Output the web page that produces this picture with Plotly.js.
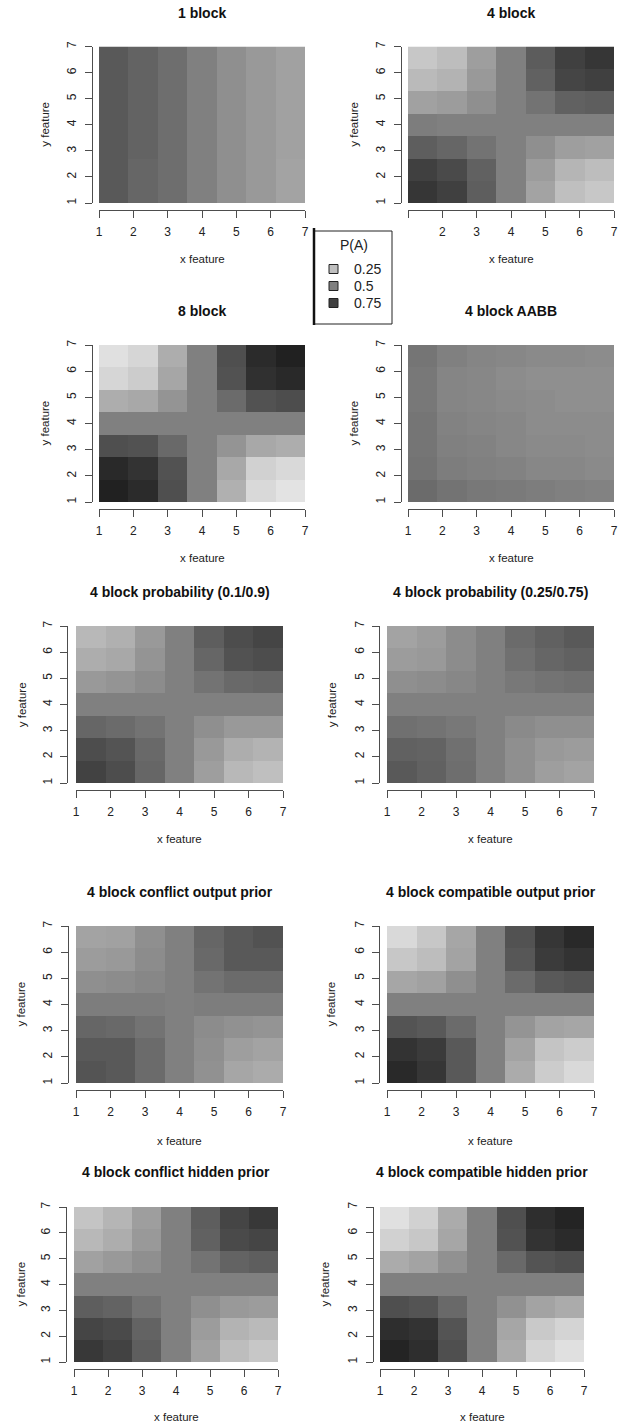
<!DOCTYPE html>
<html>
<head>
<meta charset="utf-8">
<script src="https://cdn.plot.ly/plotly-3.0.1.min.js"></script>
<style>
  html, body { margin: 0; padding: 0; background: #ffffff; }
  #chart { width: 621px; height: 1424px; }
</style>
</head>
<body>
<div id="chart"></div>
<script>
// ---------------- DATA (P(A) per cell, rows listed from y=7 (top) down to y=1) ----------------
const xCategories = [1, 2, 3, 4, 5, 6, 7];
const yCategories = [1, 2, 3, 4, 5, 6, 7];
const tickLabels = ['1', '2', '3', '4', '5', '6', '7'];
const tickLabelsNoOne = ['', '2', '3', '4', '5', '6', '7'];

const panelTitles = [
  '1 block', '4 block',
  '8 block', '4 block AABB',
  '4 block probability (0.1/0.9)', '4 block probability (0.25/0.75)',
  '4 block conflict output prior', '4 block compatible output prior',
  '4 block conflict hidden prior', '4 block compatible hidden prior'
];

const legendTitle = 'P(A)';
const legendValues = [0.25, 0.5, 0.75];
const legendLabels = ['0.25', '0.5', '0.75'];

const pOneBlock = [
  [0.65, 0.61, 0.57, 0.50, 0.44, 0.40, 0.37],
  [0.65, 0.61, 0.57, 0.50, 0.44, 0.40, 0.37],
  [0.65, 0.61, 0.57, 0.50, 0.44, 0.40, 0.37],
  [0.65, 0.61, 0.57, 0.50, 0.44, 0.40, 0.37],
  [0.65, 0.61, 0.57, 0.50, 0.44, 0.40, 0.37],
  [0.65, 0.60, 0.57, 0.50, 0.44, 0.40, 0.36],
  [0.65, 0.60, 0.57, 0.50, 0.44, 0.40, 0.36]
];
const pFourBlock = [
  [0.22, 0.26, 0.38, 0.50, 0.64, 0.75, 0.79],
  [0.27, 0.30, 0.40, 0.50, 0.62, 0.73, 0.75],
  [0.37, 0.39, 0.44, 0.50, 0.55, 0.62, 0.63],
  [0.51, 0.50, 0.50, 0.50, 0.50, 0.50, 0.50],
  [0.63, 0.60, 0.55, 0.50, 0.44, 0.38, 0.37],
  [0.75, 0.71, 0.62, 0.50, 0.39, 0.29, 0.26],
  [0.79, 0.75, 0.63, 0.50, 0.36, 0.25, 0.22]
];
const pEightBlock = [
  [0.12, 0.16, 0.32, 0.50, 0.69, 0.83, 0.87],
  [0.16, 0.20, 0.35, 0.50, 0.68, 0.81, 0.84],
  [0.32, 0.34, 0.42, 0.50, 0.58, 0.68, 0.70],
  [0.50, 0.50, 0.50, 0.50, 0.50, 0.50, 0.50],
  [0.69, 0.68, 0.59, 0.50, 0.42, 0.34, 0.32],
  [0.84, 0.80, 0.68, 0.50, 0.34, 0.18, 0.15],
  [0.87, 0.83, 0.69, 0.50, 0.31, 0.15, 0.11]
];
const pFourBlockAABB = [
  [0.54, 0.50, 0.48, 0.47, 0.46, 0.46, 0.45],
  [0.53, 0.48, 0.47, 0.45, 0.44, 0.44, 0.44],
  [0.53, 0.48, 0.47, 0.46, 0.45, 0.44, 0.44],
  [0.54, 0.49, 0.48, 0.47, 0.45, 0.45, 0.45],
  [0.54, 0.50, 0.49, 0.47, 0.46, 0.46, 0.45],
  [0.55, 0.51, 0.50, 0.49, 0.47, 0.47, 0.46],
  [0.58, 0.55, 0.53, 0.52, 0.51, 0.50, 0.49]
];
const pProb1090 = [
  [0.28, 0.31, 0.40, 0.50, 0.63, 0.70, 0.73],
  [0.32, 0.34, 0.42, 0.50, 0.60, 0.68, 0.70],
  [0.40, 0.42, 0.45, 0.50, 0.55, 0.59, 0.60],
  [0.50, 0.50, 0.50, 0.50, 0.50, 0.50, 0.50],
  [0.60, 0.58, 0.55, 0.50, 0.44, 0.40, 0.40],
  [0.70, 0.67, 0.59, 0.50, 0.40, 0.32, 0.30],
  [0.74, 0.70, 0.60, 0.50, 0.38, 0.28, 0.25]
];
const pProb2575 = [
  [0.36, 0.39, 0.45, 0.50, 0.58, 0.62, 0.65],
  [0.39, 0.40, 0.45, 0.50, 0.56, 0.60, 0.62],
  [0.44, 0.45, 0.47, 0.50, 0.53, 0.55, 0.56],
  [0.50, 0.50, 0.50, 0.50, 0.50, 0.50, 0.50],
  [0.56, 0.55, 0.53, 0.50, 0.46, 0.44, 0.44],
  [0.62, 0.61, 0.56, 0.50, 0.44, 0.40, 0.39],
  [0.65, 0.62, 0.57, 0.50, 0.44, 0.38, 0.36]
];
const pConflictOutput = [
  [0.36, 0.37, 0.44, 0.50, 0.60, 0.65, 0.68],
  [0.39, 0.40, 0.45, 0.50, 0.59, 0.65, 0.65],
  [0.44, 0.45, 0.47, 0.50, 0.55, 0.58, 0.58],
  [0.51, 0.51, 0.51, 0.50, 0.51, 0.51, 0.51],
  [0.60, 0.59, 0.55, 0.50, 0.45, 0.43, 0.42],
  [0.65, 0.65, 0.58, 0.50, 0.44, 0.38, 0.36],
  [0.67, 0.65, 0.58, 0.50, 0.43, 0.35, 0.33]
];
const pCompatibleOutput = [
  [0.15, 0.22, 0.35, 0.50, 0.68, 0.79, 0.84],
  [0.22, 0.26, 0.36, 0.50, 0.66, 0.77, 0.80],
  [0.35, 0.37, 0.44, 0.50, 0.58, 0.65, 0.67],
  [0.50, 0.50, 0.50, 0.50, 0.50, 0.50, 0.50],
  [0.67, 0.65, 0.58, 0.50, 0.42, 0.36, 0.35],
  [0.80, 0.77, 0.65, 0.50, 0.36, 0.23, 0.20],
  [0.84, 0.79, 0.65, 0.50, 0.33, 0.20, 0.15]
];
const pConflictHidden = [
  [0.23, 0.29, 0.38, 0.50, 0.63, 0.73, 0.78],
  [0.28, 0.32, 0.40, 0.50, 0.62, 0.71, 0.73],
  [0.37, 0.40, 0.44, 0.50, 0.55, 0.61, 0.63],
  [0.50, 0.50, 0.50, 0.50, 0.50, 0.50, 0.50],
  [0.63, 0.61, 0.55, 0.50, 0.44, 0.40, 0.39],
  [0.73, 0.71, 0.61, 0.50, 0.39, 0.30, 0.27],
  [0.78, 0.74, 0.63, 0.50, 0.37, 0.26, 0.22]
];
const pCompatibleHidden = [
  [0.12, 0.18, 0.33, 0.50, 0.69, 0.82, 0.86],
  [0.18, 0.22, 0.35, 0.50, 0.68, 0.80, 0.83],
  [0.33, 0.36, 0.43, 0.50, 0.59, 0.67, 0.69],
  [0.50, 0.50, 0.50, 0.50, 0.50, 0.50, 0.50],
  [0.69, 0.67, 0.59, 0.50, 0.43, 0.36, 0.33],
  [0.82, 0.80, 0.67, 0.50, 0.35, 0.21, 0.17],
  [0.86, 0.82, 0.69, 0.50, 0.33, 0.17, 0.12]
];

const panelData = [
  pOneBlock, pFourBlock, pEightBlock, pFourBlockAABB,
  pProb1090, pProb2575, pConflictOutput, pCompatibleOutput,
  pConflictHidden, pCompatibleHidden
];
const panelTickText = [
  tickLabels, tickLabelsNoOne, tickLabels, tickLabels, tickLabels,
  tickLabels, tickLabels, tickLabels, tickLabels, tickLabels
];

// ---------------- LAYOUT GEOMETRY (pixels) ----------------
const W = 621, H = 1424;
// [left, right, top, bottom, yAxisX, xAxisY, titleY, xLabelY, yLabelX]
const geom = [
  [99, 305, 46.5, 203, 91.5, 209.5, 13, 259, 45],
  [408, 614, 46.5, 203, 400.7, 209.5, 13, 259, 354],
  [99, 305, 345, 502, 91.5, 508.5, 311, 558, 45],
  [408, 614, 345, 502, 400.7, 508.5, 311, 558, 354],
  [76, 283, 626, 783, 67.3, 789.5, 592, 839, 21.7],
  [387, 594, 626, 783, 379.3, 789.5, 592, 839, 331.7],
  [76, 283, 926, 1083, 68, 1090, 892, 1141, 20],
  [387, 594, 926, 1083, 379.3, 1090, 892, 1141, 330],
  [74, 278, 1207, 1362, 66, 1368.5, 1172, 1417, 20],
  [380, 584, 1207, 1362, 372.7, 1368.5, 1172, 1417, 324]
];
const fx = x => x / W;
const fy = y => 1 - y / H;

const FONT = 'Liberation Sans, Arial, Helvetica, sans-serif';
const AXIS_COLOR = '#4d4d4d';
const TEXT_COLOR = '#222222';

const n = xCategories.length;
const lo = xCategories[0], hi = xCategories[n - 1];
const edges = xCategories.concat([hi]).map((_, k) => lo + k * (hi - lo) / n);

const data = [];
const layout = {
  width: W, height: H,
  margin: {l: 0, r: 0, t: 0, b: 0, pad: 0},
  paper_bgcolor: '#ffffff',
  plot_bgcolor: '#ffffff',
  showlegend: false,
  font: {family: FONT, color: TEXT_COLOR},
  annotations: [],
  shapes: []
};

panelData.forEach((rowsTopDown, i) => {
  const g = geom[i];
  const k = i + 1;
  const xa = 'x' + (k === 1 ? '' : k);
  const ya = 'y' + (k === 1 ? '' : k);
  data.push({
    type: 'heatmap',
    x: edges,
    y: edges,
    z: rowsTopDown.slice().reverse(),
    xaxis: xa, yaxis: ya,
    zmin: 0, zmax: 1,
    colorscale: [[0, 'rgb(255,255,255)'], [1, 'rgb(0,0,0)']],
    showscale: false,
    hoverinfo: 'x+y+z'
  });
  const common = {
    range: [lo, hi],
    anchor: 'free',
    showgrid: false, zeroline: false,
    showline: true, linecolor: AXIS_COLOR, linewidth: 1,
    ticks: 'outside', ticklen: 7, tickwidth: 1, tickcolor: AXIS_COLOR,
    tickvals: xCategories,
    tickfont: {family: FONT, size: 12, color: TEXT_COLOR},
    fixedrange: true
  };
  layout['xaxis' + (k === 1 ? '' : k)] = Object.assign({}, common, {
    domain: [fx(g[0]), fx(g[1])],
    position: fy(g[5]),
    ticktext: panelTickText[i],
    tickangle: 0,
    ticklabelstandoff: 4
  });
  layout['yaxis' + (k === 1 ? '' : k)] = Object.assign({}, common, {
    domain: [fy(g[3]), fy(g[2])],
    position: fx(g[4]),
    tickvals: yCategories,
    ticktext: tickLabels,
    tickangle: -90,
    ticklabelstandoff: 4
  });
  const cx = (g[0] + g[1]) / 2;
  layout.annotations.push({
    xref: 'paper', yref: 'paper', x: fx(cx), y: fy(g[6]),
    xanchor: 'center', yanchor: 'middle', showarrow: false,
    text: '<b>' + panelTitles[i] + '</b>',
    font: {family: FONT, size: 14, color: '#111111'}
  });
  layout.annotations.push({
    xref: 'paper', yref: 'paper', x: fx(cx), y: fy(g[7]),
    xanchor: 'center', yanchor: 'middle', showarrow: false,
    text: 'x feature',
    font: {family: FONT, size: 11.5, color: TEXT_COLOR}
  });
  layout.annotations.push({
    xref: 'paper', yref: 'paper', x: fx(g[8]), y: fy((g[2] + g[3]) / 2),
    xanchor: 'center', yanchor: 'middle', showarrow: false,
    textangle: -90,
    text: 'y feature',
    font: {family: FONT, size: 11.5, color: TEXT_COLOR}
  });
});

// ---------------- LEGEND (drawn box) ----------------
const lg = {left: 314, right: 392, top: 231, bottom: 324};
layout.shapes.push({
  type: 'rect', xref: 'paper', yref: 'paper',
  x0: fx(lg.left), x1: fx(lg.right), y0: fy(lg.bottom), y1: fy(lg.top),
  line: {color: '#222222', width: 1}, fillcolor: '#ffffff', layer: 'above'
});
layout.shapes.push({
  type: 'line', xref: 'paper', yref: 'paper',
  x0: fx(lg.left), x1: fx(lg.left), y0: fy(lg.bottom + 1), y1: fy(lg.top - 3),
  line: {color: '#111111', width: 2.5}, layer: 'above'
});
layout.annotations.push({
  xref: 'paper', yref: 'paper', x: fx(354), y: fy(245),
  xanchor: 'center', yanchor: 'middle', showarrow: false,
  text: legendTitle, font: {family: FONT, size: 14, color: TEXT_COLOR}
});
const legRowY = [269, 286, 303];
legendValues.forEach((v, j) => {
  const g = Math.round(255 * (1 - v));
  const cy = legRowY[j];
  layout.shapes.push({
    type: 'rect', xref: 'paper', yref: 'paper',
    x0: fx(329), x1: fx(338), y0: fy(cy + 4.5), y1: fy(cy - 4.5),
    line: {color: '#222222', width: 1},
    fillcolor: 'rgb(' + g + ',' + g + ',' + g + ')', layer: 'above'
  });
  layout.annotations.push({
    xref: 'paper', yref: 'paper', x: fx(352), y: fy(cy),
    xanchor: 'left', yanchor: 'middle', showarrow: false,
    text: legendLabels[j], font: {family: FONT, size: 14, color: TEXT_COLOR}
  });
});

Plotly.newPlot('chart', data, layout, {staticPlot: true, displayModeBar: false});
</script>
</body>
</html>
